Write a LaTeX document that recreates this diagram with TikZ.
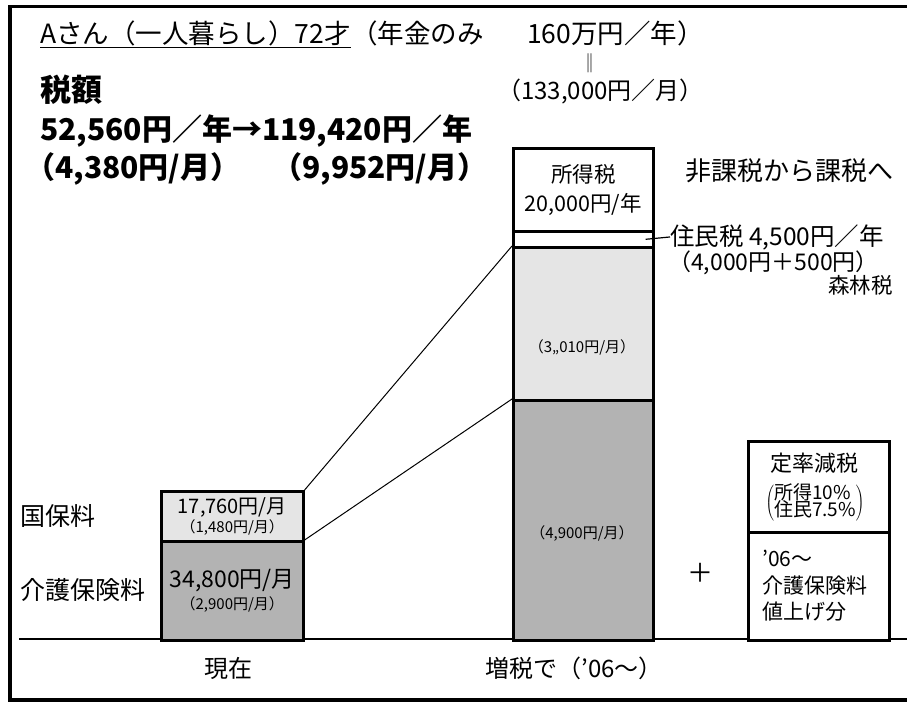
\documentclass[tikz,border=0pt]{standalone}
\usepackage{fontspec}
\setmainfont{Noto Sans CJK JP}
\definecolor{lightg}{HTML}{E5E5E5}
\definecolor{darkg}{HTML}{B3B3B3}
\newcommand{\fsz}[2]{\fontsize{#1}{#2}\selectfont}
\tikzset{
  barbox/.style={draw, line width=2.6pt, inner sep=0pt, anchor=north west, align=center},
  txt/.style={inner sep=0pt},
  conn/.style={line width=1pt},
}
\begin{document}
\begin{tikzpicture}[x=1pt,y=-1pt]
\useasboundingbox (0,0) rectangle (907,704);
\begin{scope}
  \clip (0,0) rectangle (907,704);
  \draw[line width=3.5pt] (10,6.5) rectangle (940,700);
  \draw[line width=1.5pt] (19,639) -- (940,639);
\end{scope}

% title
\node[txt, anchor=base west, font=\fsz{26.5}{30}] (t1) at (40,43) {Aさん（一人暮らし）72才};
\draw[line width=1.2pt] ([yshift=-2pt]t1.south west) -- ([yshift=-2pt]t1.south east);
\node[txt, anchor=base west, font=\fsz{26.5}{30}] (t2) at (t1.base east) {（年金のみ};
\node[txt, anchor=base east, font=\fsz{26.5}{30}] (t3) at (704,43) {160万円／年）};
\node[txt, font=\fsz{19}{20}] (eq) at (590,63) {‖};
\node[txt, anchor=base west, font=\fsz{24}{28}] (t4) at (497,99) {（133,000円／月）};

% tax amounts
\node[txt, anchor=base west, font=\bfseries\fsz{31}{34}] (z1) at (40,101) {税額};
\node[txt, anchor=base west, font=\bfseries\fsz{30}{34}] (z2) at (40,140) {52,560円／年→119,420円／年};
\node[txt, anchor=base west, font=\bfseries\fsz{30}{34}] (z3) at (25,178) {（4,380円/月）};
\node[txt, anchor=base west, font=\bfseries\fsz{30}{34}] (z4) at (272,178) {（9,952円/月）};

% bar 1 (current)
\node[barbox, fill=lightg, minimum width=142pt, minimum height=50pt, font=\fsz{20}{20}] (b1top) at (160,490)
  {17,760円/月\\[-1pt]{\fsz{15}{17}（1,480円/月）}};
\node[barbox, fill=darkg, minimum width=142pt, minimum height=99pt, font=\fsz{23}{24}] (b1bot) at (160,540)
  {34,800円/月\\[-2pt]{\fsz{15}{17}（2,900円/月）}};

% bar 2 (after tax increase)
\node[barbox, fill=white, minimum width=140pt, minimum height=83pt, font=\fsz{21.5}{29}] (b2inc) at (512,147)
  {所得税\\20,000円/年};
\node[barbox, fill=white, minimum width=140pt, minimum height=16pt] (b2res) at (512,230) {};
\node[barbox, fill=lightg, minimum width=140pt, minimum height=153pt] (b2light) at (512,246) {};
\node[barbox, fill=darkg, minimum width=140pt, minimum height=240pt] (b2dark) at (512,399) {};
\node[txt, font=\fsz{15}{17}] (l3010) at (582,347) {（3,,010円/月）};
\node[txt, font=\fsz{15}{17}] (l4900) at (582,533) {（4,900円/月）};

% connectors
\draw[conn] (b1top.north east) -- (b2light.north west);
\draw[conn] (b1bot.north east) -- (b2dark.north west);

% right-hand labels
\node[txt, anchor=base west, font=\fsz{26}{28}] (hika) at (685,180) {非課税から課税へ};
\node[txt, anchor=base west, font=\fsz{24.5}{28}] (jumin) at (670,245) {住民税 4,500円／年};
\draw[line width=1.2pt] ([xshift=-9pt]b2res.east) -- (jumin.west);
\node[txt, anchor=base west, font=\fsz{23}{26}] (jumin2) at (668,270) {（4,000円＋500円）};
\node[txt, anchor=base east, font=\fsz{21.5}{26}] (shin) at (893,293) {森林税};

% left labels
\node[txt, anchor=base west, font=\fsz{25}{28}] (koku) at (20,525) {国保料};
\node[txt, anchor=base west, font=\fsz{25}{28}] (kaigo) at (20,599) {介護保険料};

% right box
\node[barbox, fill=white, minimum width=141pt, minimum height=91pt] (rtop) at (747,440) {};
\node[barbox, fill=white, minimum width=141pt, minimum height=108pt] (rbot) at (747,531) {};
\node[txt, font=\fsz{22}{24}] (teiritsu) at (814,463) {定率減税};
\node[txt, font=\fsz{19}{20}] (paren) at (815,503)
  {$\left(\vcenter{\hbox{\fsz{19}{18}\begin{tabular}{@{}l@{}}所得10\%\\[-4pt]住民7.5\%\end{tabular}}}\right)$};
\node[txt, anchor=north west, align=left, font=\fsz{21}{26.5}] (nezage) at (762,550)
  {'06〜\\介護保険料\\値上げ分};
\node[txt, font=\fsz{26}{28}] (plus) at (700,573) {＋};

% bottom labels
\node[txt, font=\fsz{24}{28}] (genzai) at (228,668) {現在};
\node[txt, font=\fsz{24}{28}] (zouzei) at (574,668) {増税で（'06〜）};
\end{tikzpicture}
\end{document}
